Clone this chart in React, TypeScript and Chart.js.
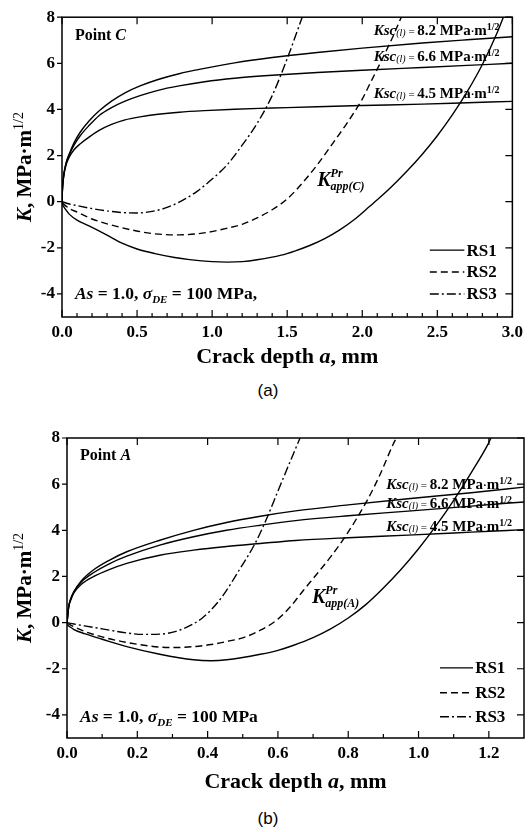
import React, { useEffect, useRef } from 'react';
import { Chart, registerables } from 'chart.js';

Chart.register(...registerables);

const SERIF = '"Liberation Serif", "Times New Roman", serif';

// ---------- Panel (a): Point C ----------
const A_KSC_A = [0, 0.003, 0.008, 0.015, 0.03, 0.05, 0.08, 0.12, 0.18, 0.25, 0.33, 0.42, 0.52, 0.64, 0.78, 0.95, 1.15, 1.4, 1.7, 2.0, 2.4, 2.7, 3.0];
const A_KSC_82 = [0, 0.55, 0.95, 1.3, 1.75, 2.1, 2.55, 3.0, 3.5, 3.95, 4.36, 4.72, 5.02, 5.3, 5.55, 5.78, 6.02, 6.25, 6.47, 6.66, 6.88, 7.02, 7.15];
const A_KSC_66 = [0, 0.55, 0.95, 1.3, 1.72, 2.05, 2.45, 2.85, 3.3, 3.75, 4.08, 4.36, 4.6, 4.83, 5.02, 5.2, 5.35, 5.48, 5.6, 5.7, 5.82, 5.91, 6.0];
const A_KSC_45 = [0, 0.5, 0.9, 1.25, 1.65, 1.95, 2.25, 2.5, 2.8, 3.1, 3.35, 3.55, 3.68, 3.79, 3.88, 3.95, 4.01, 4.06, 4.12, 4.17, 4.23, 4.29, 4.35];

const A_RS1_A = [0, 0.02, 0.05, 0.1, 0.18, 0.3, 0.4, 0.5, 0.62, 0.75, 0.85, 1.0, 1.1, 1.2, 1.3, 1.46, 1.55, 1.65, 1.75, 1.85, 1.95, 2.05, 2.1, 2.2, 2.3, 2.4, 2.5, 2.6, 2.7, 2.8, 2.9, 2.94];
const A_RS1_K = [-0.1, -0.3, -0.55, -0.8, -1.05, -1.45, -1.8, -2.05, -2.25, -2.42, -2.51, -2.6, -2.62, -2.6, -2.52, -2.32, -2.14, -1.9, -1.6, -1.22, -0.76, -0.2, 0.08, 0.68, 1.34, 2.06, 2.86, 3.76, 4.78, 5.95, 7.35, 8.0];
const A_RS2_A = [0, 0.05, 0.1, 0.2, 0.4, 0.6, 0.78, 0.96, 1.1, 1.2, 1.3, 1.4, 1.5, 1.6, 1.7, 1.8, 1.9, 2.0, 2.05, 2.1, 2.2, 2.26];
const A_RS2_K = [-0.05, -0.3, -0.45, -0.75, -1.13, -1.38, -1.44, -1.34, -1.15, -0.98, -0.7, -0.35, 0.12, 0.8, 1.6, 2.5, 3.42, 4.45, 5.1, 5.75, 7.1, 8.0];
const A_RS3_A = [0, 0.05, 0.1, 0.2, 0.3, 0.4, 0.5, 0.6, 0.7, 0.8, 0.9, 1.0, 1.1, 1.2, 1.3, 1.4, 1.5, 1.6];
const A_RS3_K = [0, -0.1, -0.17, -0.3, -0.4, -0.47, -0.49, -0.42, -0.25, 0.05, 0.45, 0.98, 1.6, 2.45, 3.4, 4.6, 6.2, 8.0];

// ---------- Panel (b): Point A ----------
const B_KSC_A = [0, 0.005, 0.01, 0.02, 0.04, 0.075, 0.12, 0.17, 0.264, 0.36, 0.454, 0.55, 0.65, 0.8, 0.97, 1.15, 1.3];
const B_KSC_82 = [0, 0.7, 1.0, 1.35, 1.8, 2.28, 2.7, 3.07, 3.57, 4.0, 4.34, 4.61, 4.84, 5.1, 5.37, 5.63, 5.87];
const B_KSC_66 = [0, 0.7, 1.0, 1.35, 1.75, 2.16, 2.55, 2.88, 3.36, 3.72, 4.0, 4.22, 4.42, 4.63, 4.83, 5.05, 5.23];
const B_KSC_45 = [0, 0.7, 0.95, 1.3, 1.65, 1.99, 2.3, 2.57, 2.92, 3.14, 3.3, 3.43, 3.56, 3.68, 3.79, 3.92, 4.03];

const B_RS1_A = [0, 0.02, 0.05, 0.1, 0.17, 0.264, 0.36, 0.41, 0.454, 0.55, 0.6, 0.645, 0.7, 0.75, 0.8, 0.85, 0.9, 0.95, 1.0, 1.05, 1.1, 1.15, 1.2, 1.206];
const B_RS1_K = [-0.1, -0.3, -0.48, -0.72, -1.04, -1.37, -1.61, -1.65, -1.61, -1.37, -1.2, -0.98, -0.65, -0.27, 0.2, 0.78, 1.5, 2.3, 3.2, 4.2, 5.3, 6.5, 7.8, 8.0];
const B_RS2_A = [0, 0.02, 0.05, 0.1, 0.17, 0.264, 0.31, 0.36, 0.41, 0.454, 0.5, 0.55, 0.6, 0.636, 0.67, 0.712, 0.755, 0.797, 0.854, 0.89, 0.93, 0.937];
const B_RS2_K = [-0.03, -0.18, -0.38, -0.62, -0.86, -1.06, -1.08, -1.04, -0.95, -0.82, -0.66, -0.33, 0.15, 0.7, 1.35, 2.13, 2.95, 3.86, 5.3, 6.4, 7.8, 8.0];
const B_RS3_A = [0, 0.02, 0.05, 0.1, 0.17, 0.217, 0.264, 0.31, 0.36, 0.385, 0.41, 0.445, 0.49, 0.535, 0.568, 0.6, 0.64, 0.663];
const B_RS3_K = [0, -0.06, -0.14, -0.27, -0.45, -0.51, -0.5, -0.38, -0.05, 0.2, 0.55, 1.2, 2.28, 3.43, 4.51, 5.7, 7.17, 8.0];

// ---------- Ticks & texts ----------
const Y_TICKS = [-4, -2, 0, 2, 4, 6, 8];
const A_X_TICKS = [0, 0.5, 1.0, 1.5, 2.0, 2.5, 3.0];
const B_X_TICKS = [0, 0.2, 0.4, 0.6, 0.8, 1.0, 1.2];
const KSC_VALUES = ['8.2', '6.6', '4.5'];
const LEGEND_LABELS = ['RS1', 'RS2', 'RS3'];
const DASHES = [[], [7, 4], [9, 3, 2, 3]];

type Run = { t: string; s: number; b?: boolean; i?: boolean; dy?: number };

const fontOf = (r: Run) => `${r.i ? 'italic ' : ''}${r.b ? 'bold ' : ''}${r.s}px ${SERIF}`;

function runsWidth(ctx: CanvasRenderingContext2D, runs: Run[]) {
  let w = 0;
  for (const r of runs) {
    ctx.font = fontOf(r);
    w += ctx.measureText(r.t).width;
  }
  return w;
}

function drawRuns(ctx: CanvasRenderingContext2D, runs: Run[], x: number, y: number, align: 'left' | 'right' | 'center' = 'left') {
  const w = runsWidth(ctx, runs);
  let cx = align === 'left' ? x : align === 'right' ? x - w : x - w / 2;
  ctx.textAlign = 'left';
  ctx.textBaseline = 'alphabetic';
  for (const r of runs) {
    ctx.font = fontOf(r);
    ctx.fillText(r.t, cx, y + (r.dy || 0));
    cx += ctx.measureText(r.t).width;
  }
}

const pts = (xs: number[], ys: number[]) => xs.map((x, i) => ({ x, y: ys[i] }));

interface Panel {
  point: string;
  xMax: number;
  xTicks: number[];
  minorStep: number;
  ksc: number[][];
  kscA: number[];
  rs: [number[], number[]][];
  pad: { top: number; right: number; bottom: number; left: number };
  yWidth: number;
  xHeight: number;
  pointAt: [number, number];
  kscAt: [number, number][];
  kappAt: [number, number];
  asAt: [number, number];
  asText: string;
  legendAt: [number, number, number];
  legendRows: number[];
  xTitleDy: number;
}

const PANEL_A: Panel = {
  point: 'C',
  xMax: 3.0,
  xTicks: A_X_TICKS,
  minorStep: 0.1,
  ksc: [A_KSC_82, A_KSC_66, A_KSC_45],
  kscA: A_KSC_A,
  rs: [[A_RS1_A, A_RS1_K], [A_RS2_A, A_RS2_K], [A_RS3_A, A_RS3_K]],
  pad: { top: 15, right: 15, bottom: 0, left: 0 },
  yWidth: 62,
  xHeight: 55,
  pointAt: [0.086, 7.0],
  kscAt: [[2.915, 7.22], [2.915, 6.12], [2.915, 4.5]],
  kappAt: [1.7, 0.67],
  asAt: [0.086, -4.2],
  asText: ' = 100 MPa,',
  legendAt: [2.45, 2.68, 2.695],
  legendRows: [-2.1, -3.05, -4.0],
  xTitleDy: 46,
};

const PANEL_B: Panel = {
  point: 'A',
  xMax: 1.3,
  xTicks: B_X_TICKS,
  minorStep: 0.1,
  ksc: [B_KSC_82, B_KSC_66, B_KSC_45],
  kscA: B_KSC_A,
  rs: [[B_RS1_A, B_RS1_K], [B_RS2_A, B_RS2_K], [B_RS3_A, B_RS3_K]],
  pad: { top: 18, right: 4, bottom: 0, left: 0 },
  yWidth: 67,
  xHeight: 54,
  pointAt: [0.037, 7.03],
  kscAt: [[1.266, 5.78], [1.266, 4.98], [1.266, 3.96]],
  kappAt: [0.697, 0.85],
  asAt: [0.037, -4.29],
  asText: ' = 100 MPa',
  legendAt: [1.061, 1.155, 1.161],
  legendRows: [-1.96, -3.04, -4.08],
  xTitleDy: 50,
};

function makeChart(canvas: HTMLCanvasElement, p: Panel) {
  const line = (data: { x: number; y: number }[], dash: number[]) => ({
    data,
    borderColor: '#000',
    borderWidth: 1.4,
    borderDash: dash,
    pointRadius: 0,
    fill: false,
    cubicInterpolationMode: 'monotone' as const,
  });
  const datasets: any[] = [];
  p.ksc.forEach((ys) => datasets.push(line(pts(p.kscA, ys), [])));
  p.rs.forEach(([xs, ys], i) => datasets.push(line(pts(xs, ys), DASHES[i])));

  const tickFont = { family: SERIF, weight: 'bold' as const, size: 17 };

  const decor = {
    id: 'decor',
    afterDraw(chart: any) {
      const { ctx, chartArea: ca } = chart;
      const xs = chart.scales.x;
      const ys = chart.scales.y;
      const P = (x: number, y: number) => [xs.getPixelForValue(x), ys.getPixelForValue(y)];
      ctx.save();
      ctx.strokeStyle = '#000';
      ctx.fillStyle = '#000';
      ctx.setLineDash([]);
      ctx.lineWidth = 1.5;
      ctx.strokeRect(ca.left, ca.top, ca.right - ca.left, ca.bottom - ca.top);
      ctx.lineWidth = 1.2;
      ctx.beginPath();
      for (const v of p.xTicks) {
        const px = xs.getPixelForValue(v);
        ctx.moveTo(px, ca.bottom); ctx.lineTo(px, ca.bottom - 7);
        ctx.moveTo(px, ca.top); ctx.lineTo(px, ca.top + 7);
      }
      const n = Math.round(p.xMax / p.minorStep);
      for (let k = 1; k < n; k++) {
        const px = xs.getPixelForValue(k * p.minorStep);
        ctx.moveTo(px, ca.bottom); ctx.lineTo(px, ca.bottom - 4);
      }
      for (const v of Y_TICKS) {
        const py = ys.getPixelForValue(v);
        ctx.moveTo(ca.left, py); ctx.lineTo(ca.left - 5, py);
        ctx.moveTo(ca.right, py); ctx.lineTo(ca.right - 7, py);
      }
      ctx.stroke();

      let [lx, ly] = P(p.pointAt[0], p.pointAt[1]);
      drawRuns(ctx, [{ t: 'Point ', s: 16, b: true }, { t: p.point, s: 16, b: true, i: true }], lx, ly);

      p.kscAt.forEach(([ax, ay], i) => {
        const [kx, ky] = P(ax, ay);
        drawRuns(ctx, [
          { t: 'Ksc', s: 15, b: true, i: true },
          { t: '(l)', s: 10, i: true, dy: 1 },
          { t: ' = ', s: 11 },
          { t: KSC_VALUES[i] + ' MPa', s: 15, b: true },
          { t: '·', s: 11, b: true },
          { t: 'm', s: 15, b: true },
          { t: '1/2', s: 10, b: true, dy: -5 },
        ], kx, ky, 'right');
      });

      [lx, ly] = P(p.kappAt[0], p.kappAt[1]);
      ctx.font = fontOf({ t: 'K', s: 20, b: true, i: true });
      ctx.textAlign = 'left';
      ctx.fillText('K', lx, ly);
      const kw = ctx.measureText('K').width;
      ctx.font = fontOf({ t: '', s: 12, b: true, i: true });
      ctx.fillText('Pr', lx + kw, ly - 9);
      ctx.fillText('app(' + p.point + ')', lx + kw, ly + 4);

      [lx, ly] = P(p.asAt[0], p.asAt[1]);
      drawRuns(ctx, [
        { t: 'As', s: 17.5, b: true, i: true },
        { t: ' = 1.0, ', s: 17.5, b: true },
        { t: 'σ', s: 17.5, b: true, i: true },
        { t: 'DE', s: 11, b: true, i: true, dy: 4 },
        { t: p.asText, s: 17.5, b: true },
      ], lx, ly);

      const [l0, l1, lt] = p.legendAt;
      p.legendRows.forEach((row, i) => {
        const [x0, yy] = P(l0, row);
        const [x1] = P(l1, row);
        const [tx] = P(lt, row);
        ctx.setLineDash(DASHES[i]);
        ctx.lineWidth = 1.4;
        ctx.beginPath();
        ctx.moveTo(x0, yy); ctx.lineTo(x1, yy);
        ctx.stroke();
        ctx.setLineDash([]);
        ctx.font = fontOf({ t: '', s: 17, b: true });
        ctx.textBaseline = 'middle';
        ctx.fillText(LEGEND_LABELS[i], tx, yy + 1);
        ctx.textBaseline = 'alphabetic';
      });

      drawRuns(ctx, [
        { t: 'Crack depth ', s: 22, b: true },
        { t: 'a', s: 22, b: true, i: true },
        { t: ', mm', s: 22, b: true },
      ], (ca.left + ca.right) / 2, ca.bottom + p.xTitleDy, 'center');

      ctx.save();
      ctx.translate(31, (ca.top + ca.bottom) / 2);
      ctx.rotate(-Math.PI / 2);
      drawRuns(ctx, [
        { t: 'K', s: 21, b: true, i: true },
        { t: ', MPa·m', s: 21, b: true },
        { t: '1/2', s: 14, dy: -8 },
      ], 0, 0, 'center');
      ctx.restore();

      ctx.restore();
    },
  };

  return new Chart(canvas, {
    type: 'line',
    data: { datasets },
    options: {
      animation: false,
      responsive: false,
      maintainAspectRatio: false,
      events: [],
      parsing: false as any,
      layout: { padding: p.pad },
      plugins: { legend: { display: false }, tooltip: { enabled: false } },
      scales: {
        x: {
          type: 'linear',
          min: 0,
          max: p.xMax,
          afterBuildTicks: (s: any) => { s.ticks = p.xTicks.map((v) => ({ value: v })); },
          afterFit: (s: any) => { s.height = p.xHeight; },
          grid: { display: false, drawTicks: false },
          border: { display: false },
          ticks: {
            font: tickFont,
            color: '#000',
            padding: 5,
            maxRotation: 0,
            autoSkip: false,
            callback: (v: any) => Number(v).toFixed(1),
          },
        },
        y: {
          type: 'linear',
          min: -5,
          max: 8,
          afterBuildTicks: (s: any) => { s.ticks = Y_TICKS.map((v) => ({ value: v })); },
          afterFit: (s: any) => { s.width = p.yWidth; },
          grid: { display: false, drawTicks: false },
          border: { display: false },
          ticks: {
            font: tickFont,
            color: '#000',
            padding: 7,
            autoSkip: false,
            callback: (v: any) => String(v),
          },
        },
      },
    },
    plugins: [decor],
  } as any);
}

export default function App() {
  const refA = useRef<HTMLCanvasElement>(null);
  const refB = useRef<HTMLCanvasElement>(null);
  useEffect(() => {
    const a = makeChart(refA.current!, PANEL_A);
    const b = makeChart(refB.current!, PANEL_B);
    return () => { a.destroy(); b.destroy(); };
  }, []);
  const cap: React.CSSProperties = {
    position: 'absolute', left: 248, width: 40, height: 20, lineHeight: '20px',
    textAlign: 'center', fontFamily: '"Liberation Sans", Arial, sans-serif', fontSize: 17, color: '#000',
  };
  return (
    <div style={{ position: 'absolute', left: 0, top: 0, width: 528, height: 832, background: '#fff' }}>
      <canvas ref={refA} width={528} height={372} style={{ position: 'absolute', left: 0, top: 0, width: 528, height: 372 }} />
      <div style={{ ...cap, top: 381 }}>(a)</div>
      <canvas ref={refB} width={528} height={372} style={{ position: 'absolute', left: 0, top: 420, width: 528, height: 372 }} />
      <div style={{ ...cap, top: 809 }}>(b)</div>
    </div>
  );
}
